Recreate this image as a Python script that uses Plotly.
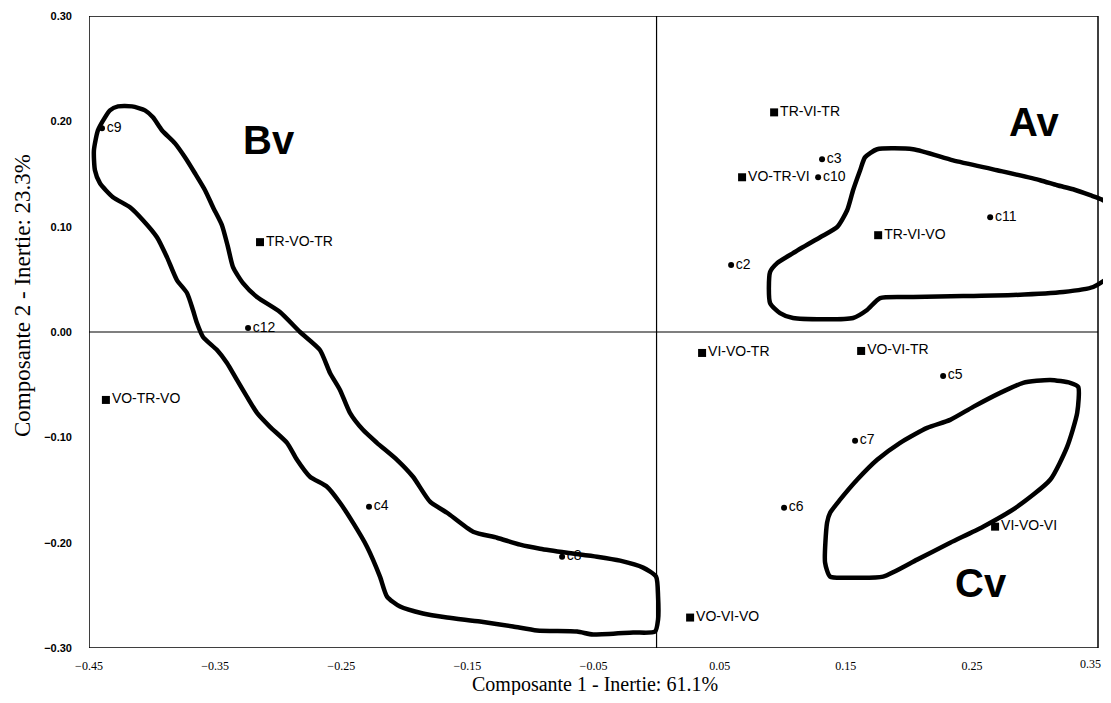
import plotly.graph_objects as go

# ---- data (component scores) ----
obs_labels = ["c9", "c12", "c4", "c8", "c2", "c3", "c10", "c11", "c5", "c7", "c6"]
obs_x = [-0.4397, -0.3239, -0.2280, -0.0749, 0.0591, 0.1312, 0.1281, 0.2645, 0.2272, 0.1574, 0.1011]
obs_y = [0.1934, 0.0038, -0.1659, -0.2133, 0.0635, 0.1640, 0.1469, 0.1090, -0.0417, -0.1033, -0.1668]

seq_labels = ["TR-VI-TR", "VO-TR-VI", "TR-VI-VO", "TR-VO-TR", "VO-TR-VO",
              "VI-VO-TR", "VO-VI-TR", "VI-VO-VI", "VO-VI-VO"]
seq_x = [0.0932, 0.0678, 0.1757, -0.3144, -0.4366, 0.0361, 0.1622, 0.2684, 0.0266]
seq_y = [0.2085, 0.1469, 0.0919, 0.0853, -0.0645, -0.0199, -0.0180, -0.1848, -0.2711]

# group outlines (hand-drawn contours)
bv_x = [-0.4334, -0.4270, -0.4159, -0.4056, -0.3993, -0.3922, -0.3818, -0.3739, -0.3660, -0.3580,
        -0.3517, -0.3446, -0.3398, -0.3358, -0.3279, -0.3168, -0.2986, -0.2827, -0.2669, -0.2589,
        -0.2510, -0.2431, -0.2328, -0.2217, -0.2058, -0.1931, -0.1796, -0.1661, -0.1455, -0.1265,
        -0.1082, -0.0924, -0.0710, -0.0472, -0.0289, -0.0107, -0.0004, 0.0012, 0.0012, -0.0012,
        -0.0186, -0.0504, -0.0630, -0.0948, -0.1138, -0.1400, -0.1661, -0.1852, -0.2034, -0.2137,
        -0.2193, -0.2296, -0.2407, -0.2510, -0.2613, -0.2748, -0.2851, -0.2930, -0.3065, -0.3168,
        -0.3247, -0.3327, -0.3406, -0.3485, -0.3596, -0.3644, -0.3676, -0.3723, -0.3803, -0.3882,
        -0.3961, -0.4072, -0.4175, -0.4310, -0.4413, -0.4453, -0.4461, -0.4429, -0.4373, -0.4334]
bv_y = [0.2104, 0.2142, 0.2142, 0.2104, 0.2038, 0.1915, 0.1791, 0.1659, 0.1507, 0.1346,
        0.1185, 0.1014, 0.0806, 0.0616, 0.0464, 0.0332, 0.0190, 0.0, -0.0171, -0.0389,
        -0.0550, -0.0768, -0.0929, -0.1052, -0.1213, -0.1374, -0.1611, -0.1716, -0.1896, -0.1953,
        -0.2019, -0.2057, -0.2095, -0.2133, -0.2171, -0.2237, -0.2322, -0.2512, -0.2730, -0.2844,
        -0.2853, -0.2872, -0.2844, -0.2834, -0.2796, -0.2749, -0.2711, -0.2673, -0.2607, -0.2512,
        -0.2322, -0.2038, -0.1810, -0.1621, -0.1469, -0.1374, -0.1213, -0.1052, -0.0900, -0.0768,
        -0.0616, -0.0455, -0.0294, -0.0171, -0.0047, 0.0085, 0.0209, 0.0370, 0.0493, 0.0711,
        0.0900, 0.1062, 0.1185, 0.1280, 0.1412, 0.1536, 0.1725, 0.1915, 0.2038, 0.2104]

av_x = [0.0956, 0.0900, 0.0900, 0.0979, 0.1082, 0.1558, 0.1669, 0.1772, 0.2034, 0.2431,
        0.2827, 0.3224, 0.3462, 0.3573, 0.3644, 0.3660, 0.3644, 0.3541, 0.3438, 0.3303,
        0.3176, 0.3041, 0.2700, 0.2351, 0.2034, 0.1749, 0.1653, 0.1614, 0.1558, 0.1511,
        0.1431, 0.1297, 0.1082, 0.0956]
av_y = [0.0654, 0.0569, 0.0275, 0.0180, 0.0133, 0.0133, 0.0209, 0.0322, 0.0332, 0.0341,
        0.0351, 0.0379, 0.0427, 0.0512, 0.0664, 0.0891, 0.1137, 0.1251, 0.1299, 0.1355,
        0.1393, 0.1441, 0.1536, 0.1630, 0.1735, 0.1735, 0.1659, 0.1536, 0.1346, 0.1156,
        0.0995, 0.0900, 0.0749, 0.0654]

cv_x = [0.1352, 0.1336, 0.1376, 0.1534, 0.1796, 0.2066, 0.2328, 0.2589, 0.2859, 0.3121,
        0.3255, 0.3335, 0.3343, 0.3279, 0.3121, 0.2906, 0.2724, 0.2510, 0.2328, 0.2145,
        0.1931, 0.1749, 0.1590, 0.1455, 0.1376, 0.1352]
cv_y = [-0.1810, -0.2190, -0.2322, -0.2332, -0.2322, -0.2161, -0.2000, -0.1848, -0.1659, -0.1403,
        -0.1090, -0.0768, -0.0521, -0.0483, -0.0455, -0.0483, -0.0578, -0.0711, -0.0834, -0.0910,
        -0.1052, -0.1213, -0.1403, -0.1592, -0.1716, -0.1810]

group_names = ["Bv", "Av", "Cv"]
group_label_x = [-0.3075, 0.2995, 0.2574]
group_label_y = [0.1820, 0.1990, -0.2380]

x_ticks = [-0.45, -0.35, -0.25, -0.15, -0.05, 0.05, 0.15, 0.25, 0.35]
y_ticks = [-0.30, -0.20, -0.10, 0.00, 0.10, 0.20, 0.30]

x_title = "Composante 1 - Inertie: 61.1%"
y_title = "Composante 2 - Inertie: 23.3%"

# ---- page geometry (the page adds an 8px body margin) ----
PX_L, PX_R, PX_T, PX_B = 89, 1103, 16, 648   # plot area on the page


def px_x(p):
    return (p - PX_L) / (PX_R - PX_L)


def px_y(p):
    return (PX_B - p) / (PX_B - PX_T)


# ---- figure ----
fig = go.Figure()

label_font = dict(family="Liberation Sans, Arial, sans-serif", size=14, color="black")
xtick_font = dict(family="Liberation Serif, Times New Roman, serif", size=12, color="black")

fig.add_trace(go.Scatter(
    x=obs_x, y=obs_y, mode="markers+text", text=obs_labels, textposition="middle right",
    marker=dict(symbol="circle", size=6, color="black"), textfont=label_font,
    hoverinfo="skip", showlegend=False, cliponaxis=False))
fig.add_trace(go.Scatter(
    x=seq_x, y=seq_y, mode="markers+text", text=seq_labels, textposition="middle right",
    marker=dict(symbol="square", size=8, color="black"), textfont=label_font,
    hoverinfo="skip", showlegend=False, cliponaxis=False))

for cx, cy in [(bv_x, bv_y), (av_x, av_y), (cv_x, cv_y)]:
    fig.add_trace(go.Scatter(x=cx, y=cy, mode="lines",
                             line=dict(color="black", width=4.5, shape="spline", smoothing=0.6),
                             hoverinfo="skip", showlegend=False))

# frame and axis cross
fig.add_shape(type="rect", xref="x", yref="y", x0=x_ticks[0], x1=x_ticks[-1],
              y0=y_ticks[0], y1=y_ticks[-1], line=dict(color="black", width=1.5), layer="below")
fig.add_shape(type="line", xref="x", yref="y", x0=0, x1=0, y0=y_ticks[0], y1=y_ticks[-1],
              line=dict(color="black", width=1.2), layer="below")
fig.add_shape(type="line", xref="x", yref="y", x0=x_ticks[0], x1=x_ticks[-1], y0=0, y1=0,
              line=dict(color="black", width=1.2), layer="below")

for name, gx, gy in zip(group_names, group_label_x, group_label_y):
    fig.add_annotation(x=gx, y=gy, xref="x", yref="y", text=name, showarrow=False,
                       font=dict(family="Liberation Sans, Arial, sans-serif", size=40,
                                 color="black", weight="bold"))

# last x tick label sits at the page edge: right-align it so it stays visible
fig.add_annotation(x=1.0, y=px_y(664), xref="paper", yref="paper",
                   text=f"{x_ticks[-1]:.2f}", showarrow=False, xanchor="right", yanchor="middle",
                   font=xtick_font)

fig.add_annotation(x=px_x(595), y=px_y(684), xref="paper", yref="paper",
                   text=x_title, showarrow=False, yanchor="middle",
                   font=dict(family="Liberation Serif, Times New Roman, serif", size=20, color="black"))
fig.add_annotation(x=px_x(22), y=px_y(296), xref="paper", yref="paper",
                   text=y_title, showarrow=False, textangle=-90, xanchor="center", yanchor="middle",
                   font=dict(family="Liberation Serif, Times New Roman, serif", size=23, color="black"))

x_max = x_ticks[0] + (x_ticks[-1] - x_ticks[0]) * (PX_R - PX_L) / (1098 - PX_L)

fig.update_layout(
    width=PX_R - 8, height=695 - 8,
    margin=dict(l=PX_L - 8, r=0, t=PX_T - 8, b=695 - PX_B, autoexpand=False),
    paper_bgcolor="white", plot_bgcolor="white",
    xaxis=dict(range=[x_ticks[0], x_max], tickvals=x_ticks[:-1], tickformat=".2f", automargin=False,
               showgrid=False, zeroline=False, showline=False, ticks="",
               tickfont=xtick_font, ticklabelstandoff=9),
    yaxis=dict(range=[y_ticks[0], y_ticks[-1]], tickvals=y_ticks, tickformat=".2f", automargin=False,
               showgrid=False, zeroline=False, showline=False, ticks="",
               tickfont=dict(family="Liberation Sans, Arial, sans-serif", size=11, color="black",
                             weight="bold"),
               ticklabelstandoff=16),
)

fig.write_html("out.html")
